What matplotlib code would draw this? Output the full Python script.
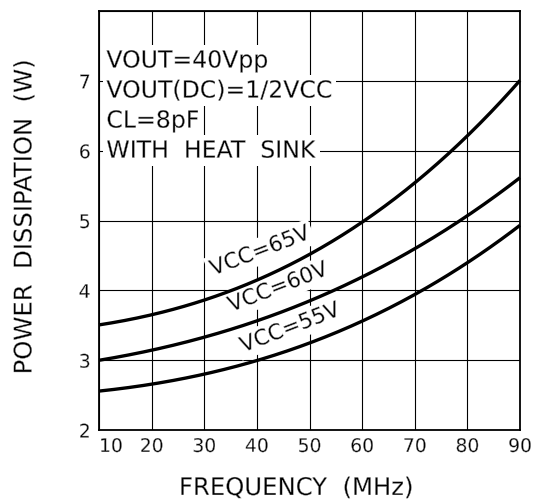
import matplotlib
matplotlib.use("Agg")
import matplotlib.pyplot as plt
import matplotlib.patheffects as pe
import numpy as np

freq = [10, 20, 30, 40, 50, 60, 70, 80, 90]
p_vcc65 = [3.50, 3.65, 3.88, 4.15, 4.47, 5.00, 5.54, 6.22, 7.00]
p_vcc60 = [3.00, 3.14, 3.33, 3.56, 3.85, 4.19, 4.61, 5.05, 5.62]
p_vcc55 = [2.56, 2.65, 2.80, 3.00, 3.25, 3.55, 3.94, 4.40, 4.93]
series_labels = ["VCC=65V", "VCC=60V", "VCC=55V"]
x_ticks = [10, 20, 30, 40, 50, 60, 70, 80, 90]
y_ticks = [2, 3, 4, 5, 6, 7]
cond_lines = ["VOUT=40Vpp", "VOUT(DC)=1/2VCC", "CL=8pF", "WITH  HEAT  SINK"]
x_label = "FREQUENCY  (MHz)"
y_label = "POWER  DISSIPATION  (W)"

plt.rcParams['font.family'] = ['DejaVu Sans']

thin = [pe.Normal(), pe.Stroke(linewidth=0.3, foreground='white')]

W, H = 545, 502
fig = plt.figure(figsize=(W / 100, H / 100), dpi=100)
ax = fig.add_axes([99 / W, 1 - 431 / H, (520 - 99) / W, (431 - 12) / H])

ax.set_xlim(10, 90)
ax.set_ylim(2, 8)
ax.set_xticks(x_ticks)
ax.set_xticklabels([str(v) for v in x_ticks])
ax.set_yticks(y_ticks + [8])
ax.set_yticklabels([str(v) for v in y_ticks] + [""])
ax.tick_params(length=0, labelsize=13.5)
ax.tick_params(axis='x', pad=5)
ax.tick_params(axis='y', pad=6)
ax.get_xticklabels()[0].set_horizontalalignment('left')
for lab in ax.get_xticklabels() + ax.get_yticklabels():
    lab.set_path_effects(thin)

ax.grid(True, color='black', linewidth=0.8, zorder=0.5)
ax.set_axisbelow(True)
for s in ax.spines.values():
    s.set_linewidth(1.3)
    s.set_zorder(4)


def smooth(xs, ys):
    xx = np.linspace(xs[0], xs[-1], 200)
    c = np.polyfit(xs, ys, 3)
    return xx, np.polyval(c, xx)


for ys in (p_vcc65, p_vcc60, p_vcc55):
    xx, yy = smooth(np.array(freq, float), np.array(ys, float))
    ax.plot(xx, yy, color='black', linewidth=2.4, zorder=3,
            solid_capstyle='butt', clip_on=False)

bbox = dict(facecolor='white', edgecolor='none', pad=2.5)
label_pos = [(40.6, 4.56), (44.0, 4.04), (46.3, 3.46)]
for (lx, ly), txt in zip(label_pos, series_labels):
    ax.text(lx, ly, txt, rotation=21, ha='center', va='center', fontsize=15.5,
            bbox=bbox, zorder=2, rotation_mode='anchor', path_effects=thin)

ys_txt = [7.29, 6.86, 6.43, 6.0]
for yv, txt in zip(ys_txt, cond_lines):
    ax.text(11.4, yv, txt, ha='left', va='center', fontsize=17,
            bbox=bbox, zorder=2, path_effects=thin)

fig.text(296 / W, 1 - 489 / H, x_label, ha='center', va='center', fontsize=17.5,
         path_effects=thin)
fig.text(24.5 / W, 1 - 218 / H, y_label, ha='center', va='center',
         rotation=90, fontsize=17.5, path_effects=thin)

fig.savefig("out.png", dpi=100)
